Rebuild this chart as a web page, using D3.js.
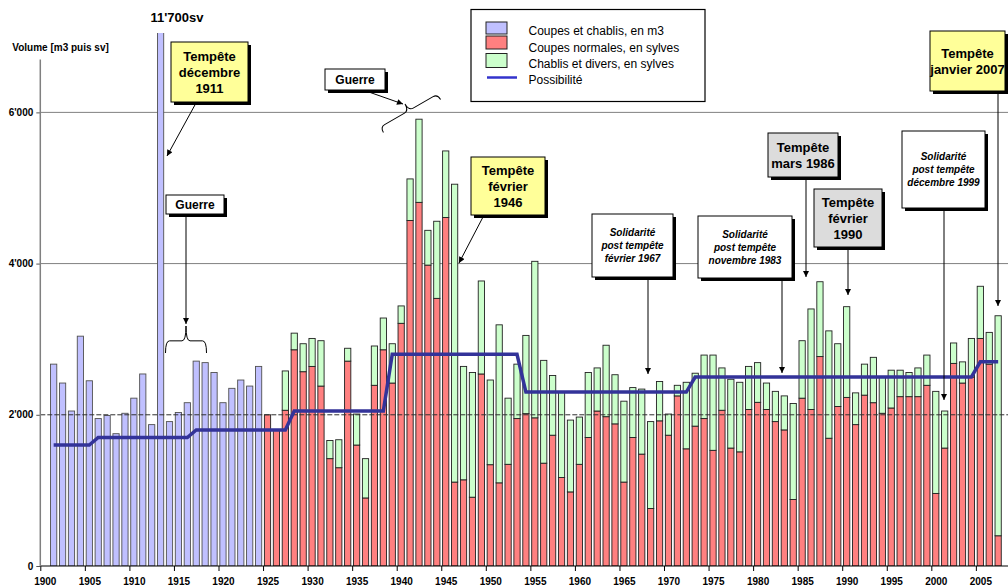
<!DOCTYPE html>
<html><head><meta charset="utf-8">
<script src="https://cdn.jsdelivr.net/npm/d3@7"></script>
<style>body{margin:0;background:#fff}svg{display:block}text{font-family:"Liberation Sans",Arial,sans-serif}</style>
</head><body><svg id="c" width="1008" height="587"></svg>
<script>
// ---------- DATA ----------
const years = d3.range(1900, 2008);
const m3Years = d3.range(1901, 1925);
const m3Values = [2670, 2420, 2050, 3040, 2450, 1950, 1990, 1750, 2020, 2220, 2540, 1870, 11700, 1910, 2030, 2160, 2710, 2690, 2560, 2160, 2350, 2460, 2380, 2640];
const sylveYears = d3.range(1925, 2008);
const normales = [2000, 1800, 2060, 2860, 2570, 2640, 2380, 1420, 1300, 2710, 1600, 900, 2390, 2860, 2420, 3210, 4570, 4810, 3980, 3540, 4610, 1110, 1140, 910, 2540, 1340, 1100, 1345, 1950, 2015, 1960, 1360, 1730, 1170, 980, 1345, 1700, 2050, 1975, 1880, 1110, 1700, 1480, 760, 1920, 1730, 2250, 1550, 1850, 1950, 1530, 2060, 1560, 1510, 2070, 2165, 2070, 1910, 1800, 880, 2220, 2070, 2770, 1690, 2110, 2230, 1870, 2260, 2160, 2020, 2090, 2240, 2240, 2240, 2390, 960, 1560, 2680, 2420, 2500, 3010, 2670, 400];
const chablis = [0, 0, 520, 220, 370, 370, 600, 240, 370, 170, 410, 520, 520, 420, 520, 230, 550, 1100, 460, 1020, 880, 3940, 1500, 1650, 1230, 1120, 2090, 875, 720, 1035, 2070, 1360, 790, 1130, 950, 625, 860, 570, 945, 650, 1070, 660, 860, 1150, 520, 280, 140, 880, 700, 840, 1260, 560, 910, 920, 570, 525, 350, 400, 450, 1270, 760, 1330, 990, 1420, 830, 1200, 420, 410, 600, 480, 500, 350, 320, 380, 400, 1350, 490, 270, 280, 510, 690, 420, 2910];
const possYears = d3.range(1901, 2008);
const possibilite = possYears.map(y => y <= 1905 ? 1600 : y <= 1916 ? 1700 : y <= 1927 ? 1800 : y <= 1938 ? 2050 : y <= 1953 ? 2800 : y <= 1972 ? 2300 : y <= 2004 ? 2500 : 2700);
const yTicks = [0, 2000, 4000, 6000];
const xTickYears = d3.range(1900, 2006, 5);
const legendLabels = ["Coupes et chablis, en m3", "Coupes normales, en sylves", "Chablis et divers, en sylves", "Possibilité"];

// ---------- LAYOUT ----------
const svg = d3.select("#c");
const X0 = 40.3, X1 = 1002.6, YB = 566;
const x = d3.scaleBand().domain(years).range([X0, X1]).paddingInner(0.3).paddingOuter(0.15);
const step = x.step();
const xl = d3.scaleLinear().domain([1900, 2008]).range([X0, X1]);
const y = d3.scaleLinear().domain([0, 7050]).range([YB, 33]);
const cx = yr => x(yr) + x.bandwidth() / 2;

const defs = svg.append("defs");
defs.append("clipPath").attr("id", "plot").append("rect").attr("x", X0).attr("y", y(7050)).attr("width", 1008 - X0).attr("height", YB - y(7050));
defs.append("marker").attr("id", "ah").attr("viewBox", "0 0 10 10").attr("refX", 10).attr("refY", 5)
  .attr("markerWidth", 7).attr("markerHeight", 6).attr("orient", "auto")
  .append("path").attr("d", "M0,0 L10,5 L0,10 z").attr("fill", "#000");

// gridlines (behind)
svg.append("g").selectAll("line").data([4000, 6000]).join("line")
  .attr("x1", X0).attr("x2", 1008).attr("y1", d => y(d)).attr("y2", d => y(d))
  .attr("stroke", "#808080").attr("stroke-width", 1);

const bars = svg.append("g").attr("clip-path", "url(#plot)");
bars.selectAll("rect.m3").data(m3Years.map((yr, i) => ({yr, v: m3Values[i]}))).join("rect")
  .attr("x", d => x(d.yr)).attr("width", x.bandwidth())
  .attr("y", d => y(d.v)).attr("height", d => YB - y(d.v))
  .attr("fill", "#c0c0ff").attr("stroke", "#505050").attr("stroke-width", 0.9);
const stk = sylveYears.map((yr, i) => ({yr, a: normales[i], b: chablis[i]}));
bars.selectAll("rect.n").data(stk).join("rect")
  .attr("x", d => x(d.yr)).attr("width", x.bandwidth())
  .attr("y", d => y(d.a)).attr("height", d => YB - y(d.a))
  .attr("fill", "#ff8080").attr("stroke", "#202020").attr("stroke-width", 0.9);
bars.selectAll("rect.c").data(stk.filter(d => d.b > 0)).join("rect")
  .attr("x", d => x(d.yr)).attr("width", x.bandwidth())
  .attr("y", d => y(d.a + d.b)).attr("height", d => y(d.a) - y(d.a + d.b))
  .attr("fill", "#ccffcc").attr("stroke", "#202020").attr("stroke-width", 0.9);

// 2000 dashed reference
svg.append("line").attr("x1", X0).attr("x2", 1008).attr("y1", y(2000)).attr("y2", y(2000))
  .attr("stroke", "#303030").attr("stroke-width", 1).attr("stroke-dasharray", "5,2");

// possibilite
svg.append("path").datum(possYears.map((yr, i) => [cx(yr), y(possibilite[i])]))
  .attr("d", d3.line()).attr("fill", "none").attr("stroke", "#333399").attr("stroke-width", 3.5);

// axes
const gx = svg.append("g").attr("transform", `translate(0,${YB})`)
  .call(d3.axisBottom(xl).tickValues(xTickYears).tickFormat(d3.format("d")).tickSize(5).tickPadding(7));
gx.select(".domain").remove();
gx.selectAll("text").attr("x", step / 2).style("font-size", "10px").style("font-weight", "bold").attr("fill", "#000");
gx.selectAll("line").attr("stroke", "#000");
svg.append("line").attr("x1", X0).attr("x2", 1008).attr("y1", YB).attr("y2", YB).attr("stroke", "#000").attr("stroke-width", 1.2);

const gy = svg.append("g").attr("transform", `translate(${X0},0)`)
  .call(d3.axisLeft(y).tickValues(yTicks).tickSize(4).tickPadding(3).tickFormat(d => d3.format(",")(d).replace(",", "'")));
gy.select(".domain").remove();
gy.selectAll("text").style("font-size", "10px").style("font-weight", "bold").attr("fill", "#000");
gy.selectAll("line").attr("stroke", "#555");
svg.append("line").attr("x1", X0).attr("x2", X0).attr("y1", YB).attr("y2", y(6700)).attr("stroke", "#808080").attr("stroke-width", 1.5);

svg.append("text").attr("x", 12.3).attr("y", 51).text("Volume [m3 puis sv]").style("font-size", "10px").style("font-weight", "bold");
svg.append("text").attr("x", 177).attr("y", 21.5).attr("text-anchor", "middle").text("11'700sv").style("font-size", "13px").style("font-weight", "bold");

// ---------- ANNOTATIONS ----------
const arrows = [
  [[196, 103], [167, 156]], [[186, 215], [186, 324]], [[366, 91], [403, 104]], [[483, 217], [459, 263]],
  [[648, 278], [648, 374]], [[782, 279], [782, 373]], [[806, 178], [806, 277]], [[848, 248], [848, 295]],
  [[944, 209], [944, 400]], [[998, 92], [998, 306]]
];
svg.append("g").selectAll("line").data(arrows).join("line")
  .attr("x1", d => d[0][0]).attr("y1", d => d[0][1]).attr("x2", d => d[1][0]).attr("y2", d => d[1][1])
  .attr("stroke", "#000").attr("stroke-width", 1).attr("marker-end", "url(#ah)");

function brace(w, h, r) {
  const m = h * 0.55;
  return `M${-w/2},${h} Q${-w/2},${m} ${-w/2+r},${m} L${-r},${m} Q0,${m} 0,0 Q0,${m} ${r},${m} L${w/2-r},${m} Q${w/2},${m} ${w/2},${h}`;
}
svg.append("path").attr("d", brace(41, 27, 4)).attr("transform", "translate(186,326)")
  .attr("fill", "none").attr("stroke", "#000").attr("stroke-width", 1);
svg.append("path").attr("d", brace(66, 14, 5)).attr("transform", "translate(405,104) rotate(-30)")
  .attr("fill", "none").attr("stroke", "#000").attr("stroke-width", 1);

const boxes = [
  {x: 171, y: 42, w: 77, h: 60, fill: "#ffff99", lines: ["Tempête", "décembre", "1911"], fs: 13, lh: 16},
  {x: 166, y: 195, w: 58, h: 19, fill: "#ffffff", lines: ["Guerre"], fs: 12, lh: 0},
  {x: 325, y: 69, w: 60, h: 21, fill: "#ffffff", lines: ["Guerre"], fs: 12, lh: 0},
  {x: 471, y: 157, w: 74, h: 58, fill: "#ffff99", lines: ["Tempête", "février", "1946"], fs: 13, lh: 16},
  {x: 592, y: 214, w: 81, h: 63, fill: "#ffffff", lines: ["Solidarité", "post tempête", "février 1967"], fs: 10, lh: 13, it: true},
  {x: 698, y: 216, w: 94, h: 62, fill: "#ffffff", lines: ["Solidarité", "post tempête", "novembre 1983"], fs: 10, lh: 13, it: true},
  {x: 768, y: 133, w: 70, h: 44, fill: "#dcdcdc", lines: ["Tempête", "mars 1986"], fs: 13, lh: 16},
  {x: 814, y: 189, w: 68, h: 58, fill: "#dcdcdc", lines: ["Tempête", "février", "1990"], fs: 13, lh: 16},
  {x: 902, y: 131, w: 83, h: 77, fill: "#ffffff", lines: ["Solidarité", "post tempête", "décembre 1999"], fs: 10, lh: 13, it: true},
  {x: 930, y: 31, w: 75, h: 60, fill: "#ffff99", lines: ["Tempête", "janvier 2007"], fs: 13, lh: 16}
];
const bg = svg.append("g").selectAll("g").data(boxes).join("g");
bg.append("rect").attr("x", d => d.x + 3).attr("y", d => d.y + 3).attr("width", d => d.w).attr("height", d => d.h).attr("fill", "#000");
bg.append("rect").attr("x", d => d.x).attr("y", d => d.y).attr("width", d => d.w).attr("height", d => d.h)
  .attr("fill", d => d.fill).attr("stroke", "#000").attr("stroke-width", 1);
bg.each(function(d) {
  const g = d3.select(this);
  const n = d.lines.length;
  d.lines.forEach((t, i) => {
    g.append("text").attr("x", d.x + d.w / 2).attr("y", d.y + d.h / 2 + (i - (n - 1) / 2) * d.lh)
      .attr("dy", "0.35em").attr("text-anchor", "middle").text(t)
      .style("font-size", d.fs + "px").style("font-weight", "bold").style("font-style", d.it ? "italic" : "normal");
  });
});

// ---------- LEGEND ----------
const lg = svg.append("g");
lg.append("rect").attr("x", 471).attr("y", 9.5).attr("width", 234).attr("height", 92).attr("fill", "#fff").attr("stroke", "#000").attr("stroke-width", 1.2);
const sw = [{c: "#c0c0ff", y0: 22, y1: 34}, {c: "#ff8080", y0: 36, y1: 49}, {c: "#ccffcc", y0: 53.5, y1: 67.5}];
lg.selectAll("rect.sw").data(sw).join("rect").attr("x", 486).attr("width", 21).attr("y", d => d.y0).attr("height", d => d.y1 - d.y0)
  .attr("fill", d => d.c).attr("stroke", "#222").attr("stroke-width", 1);
lg.append("line").attr("x1", 487).attr("x2", 517).attr("y1", 77.5).attr("y2", 77.5).attr("stroke", "#3333cc").attr("stroke-width", 2.5);
const ly = [31, 47.5, 63.3, 80];
lg.selectAll("text").data(legendLabels).join("text").attr("x", 528.5).attr("y", (d, i) => ly[i]).attr("dy", "0.35em")
  .text(d => d).style("font-size", "12px");
</script></body></html>
